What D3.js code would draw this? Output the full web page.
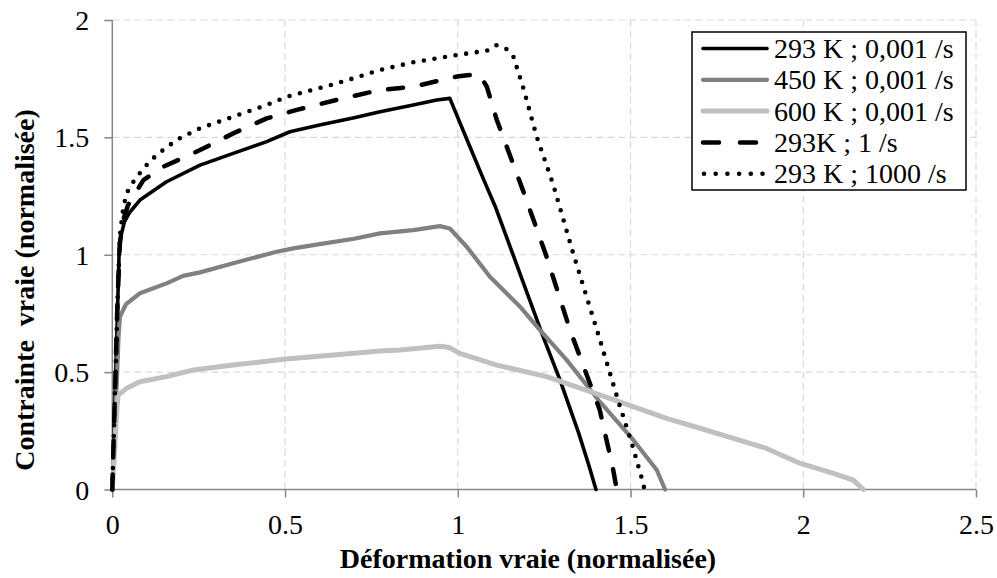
<!DOCTYPE html>
<html>
<head>
<meta charset="utf-8">
<script src="https://cdn.jsdelivr.net/npm/d3@7"></script>
<style>
  html, body { margin: 0; padding: 0; background: #fff; }
  svg { display: block; }
  text { font-family: "Liberation Serif", "Times New Roman", serif; fill: #000; }
</style>
</head>
<body>
<svg id="chart" width="997" height="578"></svg>
<script>
// ---- data ----
const xTickValues = [0, 0.5, 1, 1.5, 2, 2.5];
const yTickValues = [0, 0.5, 1, 1.5, 2];
const xTickLabels = ["0", "0.5", "1", "1.5", "2", "2.5"];
const yTickLabels = ["0", "0.5", "1", "1.5", "2"];

const seriesNames = ["293 K ; 0,001 /s", "450 K ; 0,001 /s", "600 K ; 0,001 /s", "293K ; 1 /s", "293 K ; 1000 /s"];

const s293slow = [[0,0],[0.01,0.5],[0.02,1.02],[0.025,1.08],[0.035,1.14],[0.05,1.18],[0.08,1.233],[0.157,1.311],[0.254,1.382],[0.35,1.432],[0.447,1.482],[0.514,1.524],[0.6,1.553],[0.7,1.584],[0.775,1.609],[0.871,1.638],[0.939,1.659],[0.977,1.666],[1.03,1.478],[1.074,1.323],[1.11,1.2],[1.15,1.04],[1.2,0.84],[1.247,0.651],[1.296,0.466],[1.35,0.24],[1.38,0.1],[1.4,0]];

const s450 = [[0,0],[0.01,0.35],[0.018,0.65],[0.022,0.736],[0.04,0.79],[0.08,0.836],[0.157,0.878],[0.205,0.91],[0.254,0.925],[0.35,0.964],[0.476,1.013],[0.524,1.027],[0.6,1.045],[0.7,1.068],[0.775,1.091],[0.871,1.105],[0.948,1.122],[0.977,1.112],[1.026,1.034],[1.093,0.906],[1.18,0.779],[1.238,0.679],[1.315,0.552],[1.411,0.374],[1.508,0.211],[1.576,0.083],[1.6,0]];

const s600 = [[0,0],[0.008,0.2],[0.014,0.36],[0.017,0.402],[0.04,0.43],[0.08,0.459],[0.157,0.481],[0.234,0.509],[0.35,0.53],[0.495,0.555],[0.64,0.573],[0.775,0.59],[0.833,0.594],[0.948,0.61],[0.975,0.605],[1.006,0.58],[1.113,0.53],[1.257,0.481],[1.411,0.403],[1.508,0.353],[1.604,0.303],[1.701,0.261],[1.798,0.218],[1.894,0.175],[1.99,0.112],[2.087,0.069],[2.145,0.04],[2.174,0]];

const s293fast1 = [[0,0],[0.015,0.8],[0.022,1.05],[0.03,1.14],[0.045,1.21],[0.09,1.318],[0.148,1.375],[0.254,1.446],[0.35,1.517],[0.447,1.581],[0.534,1.617],[0.65,1.66],[0.775,1.702],[0.871,1.716],[0.997,1.759],[1.035,1.766],[1.064,1.766],[1.084,1.716],[1.113,1.574],[1.19,1.269],[1.257,0.992],[1.325,0.679],[1.411,0.339],[1.45,0.083],[1.46,0]];

const s293fast1000 = [[0,0],[0.015,0.8],[0.022,1.08],[0.03,1.18],[0.037,1.233],[0.041,1.262],[0.061,1.311],[0.09,1.368],[0.128,1.425],[0.186,1.489],[0.254,1.539],[0.35,1.588],[0.447,1.638],[0.505,1.673],[0.65,1.73],[0.775,1.787],[0.871,1.82],[0.997,1.851],[1.084,1.869],[1.111,1.893],[1.139,1.879],[1.161,1.844],[1.19,1.709],[1.228,1.505],[1.276,1.3],[1.334,1.006],[1.411,0.64],[1.465,0.375],[1.503,0.2],[1.537,0.025],[1.54,0]];

// ---- layout / styles ----
const W = 997, H = 578;
const plot = { left: 112.3, right: 976, top: 20, bottom: 489.5 };
const styles = [
  { data: s293slow,     color: "#000000", width: 3.6, dash: null,       cap: "round" },
  { data: s450,         color: "#808080", width: 4.2, dash: null,       cap: "round" },
  { data: s600,         color: "#c0c0c0", width: 5,   dash: null,       cap: "round" },
  { data: s293fast1,    color: "#000000", width: 4.5, dash: "15,19",    cap: "round" },
  { data: s293fast1000, color: "#000000", width: 4.6, dash: "0,10.7",   cap: "round" }
];

const svg = d3.select("#chart");
svg.append("rect").attr("width", W).attr("height", H).attr("fill", "#fff");

const x = d3.scaleLinear().domain([0, 2.5]).range([plot.left, plot.right]);
const y = d3.scaleLinear().domain([0, 2]).range([plot.bottom, plot.top]);

// gridlines
const grid = svg.append("g");
grid.selectAll("line.vg").data(xTickValues.filter(v => v > 0)).enter().append("line")
  .attr("x1", d => x(d)).attr("x2", d => x(d))
  .attr("y1", plot.top).attr("y2", plot.bottom)
  .attr("stroke", "#d9d9d9").attr("stroke-width", 1.2).attr("stroke-dasharray", "7,4");
grid.selectAll("line.hg").data(yTickValues.filter(v => v > 0)).enter().append("line")
  .attr("x1", plot.left).attr("x2", plot.right)
  .attr("y1", d => y(d)).attr("y2", d => y(d))
  .attr("stroke", "#d9d9d9").attr("stroke-width", 1.2).attr("stroke-dasharray", "7,4");

// axes
const xAxis = d3.axisBottom(x).tickValues(xTickValues).tickSize(8).tickFormat((d, i) => xTickLabels[i]);
const yAxis = d3.axisLeft(y).tickValues(yTickValues).tickSize(8).tickFormat((d, i) => yTickLabels[i]);

const gx = svg.append("g").attr("transform", `translate(0,${plot.bottom})`).call(xAxis);
const gy = svg.append("g").attr("transform", `translate(${plot.left},0)`).call(yAxis);

[gx, gy].forEach(g => {
  g.select(".domain").attr("stroke", "#868686").attr("stroke-width", 1.5);
  g.selectAll(".tick line").attr("stroke", "#868686").attr("stroke-width", 1.5);
  g.selectAll(".tick text")
    .attr("font-family", "'Liberation Serif', 'Times New Roman', serif")
    .attr("font-size", 28).attr("fill", "#000");
});
gx.select(".domain").attr("d", `M${plot.left},0H${plot.right}`);
gy.select(".domain").attr("d", `M0,${plot.bottom}V${plot.top}`);
gx.selectAll(".tick text").attr("dy", null).attr("y", 44);
gy.selectAll(".tick text").attr("dy", "0.34em").attr("x", -23);

// series lines
const line = d3.line().x(d => x(d[0])).y(d => y(d[1]));
const linesG = svg.append("g");
styles.forEach(s => {
  const p = linesG.append("path").datum(s.data)
    .attr("d", line).attr("fill", "none")
    .attr("stroke", s.color).attr("stroke-width", s.width)
    .attr("stroke-linejoin", "round").attr("stroke-linecap", s.cap);
  if (s.dash) p.attr("stroke-dasharray", s.dash);
});

// axis titles
svg.append("text")
  .attr("x", 528).attr("y", 568)
  .attr("text-anchor", "middle")
  .attr("font-weight", "bold").attr("font-size", 28)
  .text("Déformation vraie (normalisée)");

svg.append("text")
  .attr("transform", "translate(34,290) rotate(-90)")
  .attr("text-anchor", "middle")
  .attr("font-weight", "bold").attr("font-size", 28)
  .attr("xml:space", "preserve")
  .style("white-space", "pre")
  .text("Contrainte  vraie (normalisée)");

// legend
const legend = { x: 692, y: 32, w: 274, h: 158, lineX1: 703, lineX2: 767, textX: 774, row0: 48.5, rowStep: 31.3 };
const lg = svg.append("g");
lg.append("rect").attr("x", legend.x).attr("y", legend.y).attr("width", legend.w).attr("height", legend.h)
  .attr("fill", "#fff").attr("stroke", "#000").attr("stroke-width", 1.5);
styles.forEach((s, i) => {
  const cy = legend.row0 + i * legend.rowStep;
  const l = lg.append("line")
    .attr("x1", legend.lineX1 + (s.dash === "0,10.7" ? 1 : 0)).attr("x2", legend.lineX2)
    .attr("y1", cy).attr("y2", cy)
    .attr("stroke", s.color).attr("stroke-width", s.width).attr("stroke-linecap", s.cap);
  if (s.dash) l.attr("stroke-dasharray", s.dash === "0,10.7" ? "0,11.7" : "16,21");
  lg.append("text").attr("x", legend.textX).attr("y", cy).attr("dy", "0.34em")
    .attr("font-size", 28).text(seriesNames[i]);
});
</script>
</body>
</html>
